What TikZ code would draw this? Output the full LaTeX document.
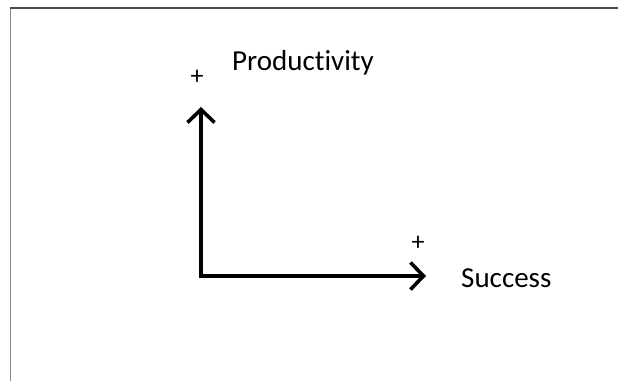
\documentclass[tikz,border=0pt]{standalone}
\usepackage{fontspec}
\setmainfont{Carlito}[Ligatures={NoCommon}]
\usepackage{tikz}
\usetikzlibrary{positioning,arrows.meta}

\tikzset{
  axislbl/.style={inner sep=0pt,anchor=base west,font=\fontsize{29}{32}\selectfont},
  pluslbl/.style={inner sep=0pt,font=\fontsize{26}{28}\selectfont},
  axisarrow/.style={line width=3.6pt,line cap=rect,-{Straight Barb[length=13pt,width=27pt,line width=3.6pt]}}
}

\begin{document}
\begin{tikzpicture}[x=1pt,y=-1pt]
        \useasboundingbox (0,0) rectangle (618,381);% frame of the page
        \draw[line width=1.6pt,black!45] (10.5,8) -- (10.5,381);
        \draw[line width=1.6pt,black!70] (10,8) -- (618,8);
        \coordinate (O) at (201,276);
        \coordinate (ytip) at (201,107);
        \coordinate (xtip) at (426,276);
        \draw[axisarrow] (O) -- (ytip);
        \draw[axisarrow] (O) -- (xtip);
        \node[axislbl] (prod) at (232,70) {Productivity};
        \node[axislbl] (succ) at (461,287) {Success};
        \node[pluslbl] (pplus) at (197,77) {+};
        \node[pluslbl] (splus) at (418,243) {+};
      \end{tikzpicture}
\end{document}
